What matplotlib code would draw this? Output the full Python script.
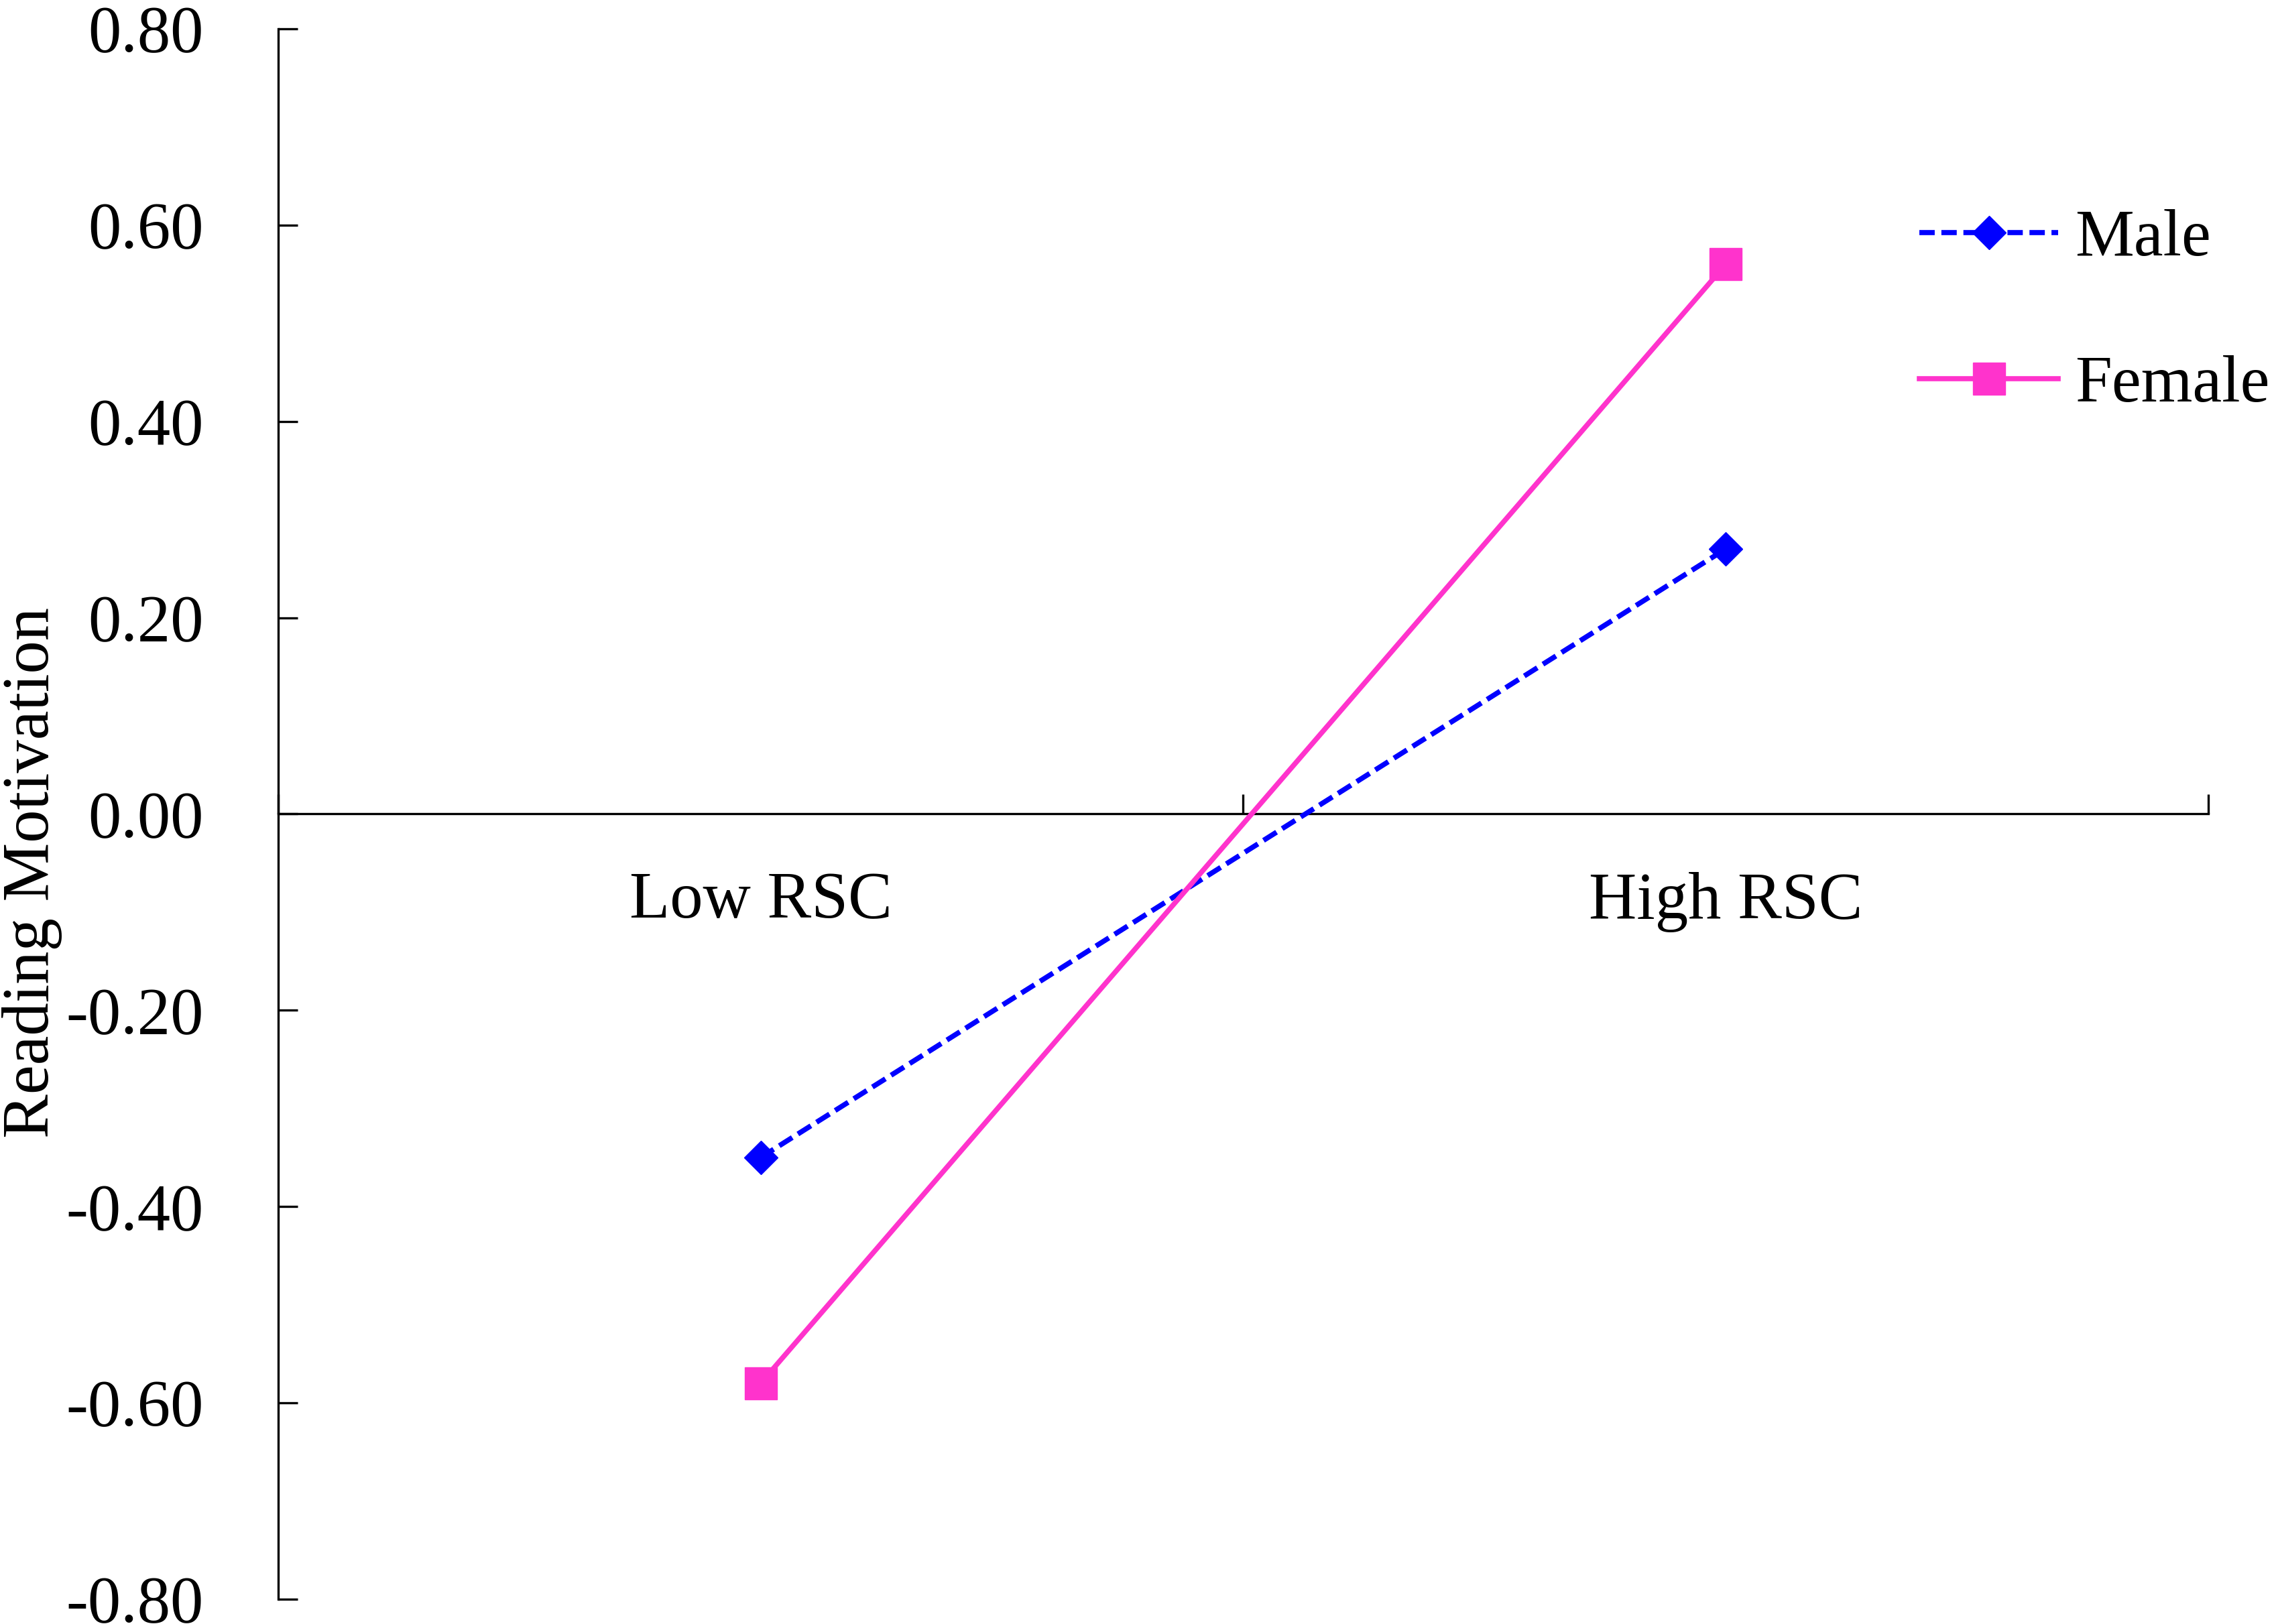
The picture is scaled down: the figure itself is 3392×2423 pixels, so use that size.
import matplotlib
matplotlib.use("Agg")
import matplotlib.pyplot as plt
from matplotlib.ticker import FixedLocator, FuncFormatter

categories = ["Low RSC", "High RSC"]
male = [-0.35, 0.27]
female = [-0.58, 0.56]
yticks = [-0.80, -0.60, -0.40, -0.20, 0.00, 0.20, 0.40, 0.60, 0.80]

plt.rcParams['font.family'] = ['Liberation Serif', 'DejaVu Serif']
fs = 71

fig = plt.figure(figsize=(33.92, 24.23), dpi=100)
ax = fig.add_axes([0.1223, 0.0153, 0.8488, 0.967])

xpos = [0.5, 1.5]
ax.plot(xpos, male, color='#0000FF', linestyle=(0, (3, 1.3)), lw=5.5,
        marker='D', markersize=25, label='Male', zorder=3)
ax.plot(xpos, female, color='#FF33CC', linestyle='-', lw=5.5,
        marker='s', markersize=35, label='Female', zorder=3)

ax.set_xlim(0, 2)
ax.set_ylim(-0.8, 0.8)

ax.spines['top'].set_visible(False)
ax.spines['right'].set_visible(False)
ax.spines['bottom'].set_position(('data', 0))
ax.spines['left'].set_linewidth(2.4)
ax.spines['bottom'].set_linewidth(2.4)

# y axis
ax.yaxis.set_major_locator(FixedLocator(yticks))
ax.yaxis.set_major_formatter(FuncFormatter(lambda v, p: f"{v:.2f}"))
ax.tick_params(axis='y', direction='in', length=21, width=2.4, pad=80, labelsize=fs)

# x axis: tick marks between categories, labels at category centres
ax.xaxis.set_major_locator(FixedLocator([0, 1, 2]))
ax.xaxis.set_major_formatter(FuncFormatter(lambda v, p: ""))
ax.xaxis.set_minor_locator(FixedLocator(xpos))
ax.xaxis.set_minor_formatter(FuncFormatter(lambda v, p: categories[int(v)]))
ax.tick_params(axis='x', which='major', direction='in', length=21, width=2.4)
ax.tick_params(axis='x', which='minor', length=0, pad=62, labelsize=fs)

fig.text(48 / 3392, 1 - 1302 / 2423, "Reading Motivation", rotation=90,
         ha='center', va='center', fontsize=fs)

ax.legend(loc='upper left', bbox_to_anchor=(2863 / 3392, 1 - 312 / 2423),
          bbox_transform=fig.transFigure, frameon=False, fontsize=fs,
          handlelength=2.1, handletextpad=0.25, labelspacing=1.3,
          borderpad=0, borderaxespad=0)

fig.savefig("out.png", dpi=100, facecolor='white')
